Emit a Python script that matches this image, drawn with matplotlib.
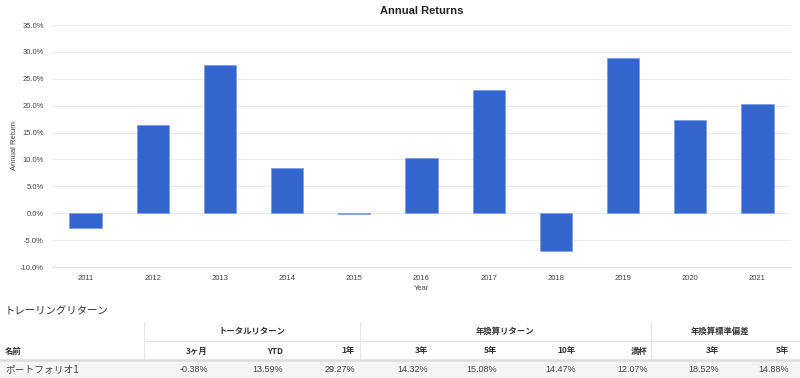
import numpy as np
import matplotlib.pyplot as plt

plt.rcParams['font.family'] = ['Liberation Sans', 'Noto Sans CJK JP', 'DejaVu Sans']

years = ["2011", "2012", "2013", "2014", "2015", "2016", "2017", "2018", "2019", "2020", "2021"]
returns = [-2.8, 16.4, 27.5, 8.5, -0.2, 10.2, 22.9, -7.1, 28.8, 17.3, 20.3]

table_title = "トレーリングリターン"
groups = ["トータルリターン", "年換算リターン", "年換算標準偏差"]
col_heads = ["3ヶ月", "YTD", "1年", "3年", "5年", "10年", "満杯", "3年", "5年"]
row_name = "ポートフォリオ1"
row_vals = ["-0.38%", "13.59%", "29.27%", "14.32%", "15.08%", "14.47%", "12.07%", "18.52%", "14.88%"]

W, H = 800, 378
fig = plt.figure(figsize=(W/100, H/100), dpi=100)

# chart
ax_w = 791 - 52
ax = fig.add_axes([52/W, 1-267/H, ax_w/W, (267-25)/H])
x = np.arange(len(years))
ax.bar(x, returns, width=0.48, color="#3366cc", edgecolor="#7fa0e6", linewidth=0.6, zorder=3)
ax.set_xlim(-0.5, len(years)-0.5)
ax.set_ylim(-10, 35)
ax.set_yticks(np.arange(-10, 36, 5))
ax.set_yticklabels([f"{v:.1f}%" for v in np.arange(-10, 36, 5)])
ax.set_xticks(x)
ax.set_xticklabels(years)
ax.grid(axis="y", color="#ececec", lw=0.8, zorder=0)
for s in ["top", "right", "left"]:
    ax.spines[s].set_visible(False)
ax.spines["bottom"].set_color("#e0e0ee")
ax.spines["bottom"].set_linewidth(0.8)
ax.tick_params(length=0, labelsize=5.5, colors="#444444", pad=6)
ax.yaxis.set_tick_params(pad=6)
ax.set_title("Annual Returns", fontsize=8, fontweight="bold", color="#222222", pad=8)
ax.set_xlabel("Year", fontsize=5.5, color="#444444", labelpad=2)
ax.set_ylabel("Annual Return", fontsize=5.5, color="#444444")
ax.yaxis.set_label_coords(-34/ax_w, 0.5)

# table, drawn in pixel coordinates
tb = fig.add_axes([0, 0, 1, 1], zorder=-1)
tb.set_xlim(0, W)
tb.set_ylim(H, 0)
tb.axis("off")

jp = ['Noto Sans CJK JP', 'Liberation Sans']
tb.text(5, 311, table_title, fontsize=7.5, color="#333333", va="center", family=jp)

sep_x = [144, 360, 651]
group_mid = [252, 505, 720]
right_x = [208, 283, 355, 428, 497, 576, 648, 719, 789]

for sx in sep_x:
    tb.plot([sx, sx], [322, 359], color="#e6e6e6", lw=0.8)
tb.plot([144, W], [341, 341], color="#e6e6e6", lw=0.8)
tb.plot([0, W], [360, 360], color="#dddddd", lw=1.8)
tb.fill_between([0, W], 361, H, color="#f5f5f5", lw=0)

for g, gx in zip(groups, group_mid):
    tb.text(gx, 331, g, fontsize=6, fontweight="bold", color="#333333", ha="center", va="center", family=jp)
tb.text(5, 351, "名前", fontsize=6, fontweight="bold", color="#333333", va="center", family=jp)
for h, rx in zip(col_heads, right_x):
    tb.text(rx, 351, h, fontsize=6, fontweight="bold", color="#333333", ha="right", va="center", family=jp)
tb.text(5, 370, row_name, fontsize=7, color="#444444", va="center", family=jp)
for v, rx in zip(row_vals, right_x):
    tb.text(rx, 370, v, fontsize=6.5, color="#444444", ha="right", va="center")

fig.savefig("out.png", dpi=100)
